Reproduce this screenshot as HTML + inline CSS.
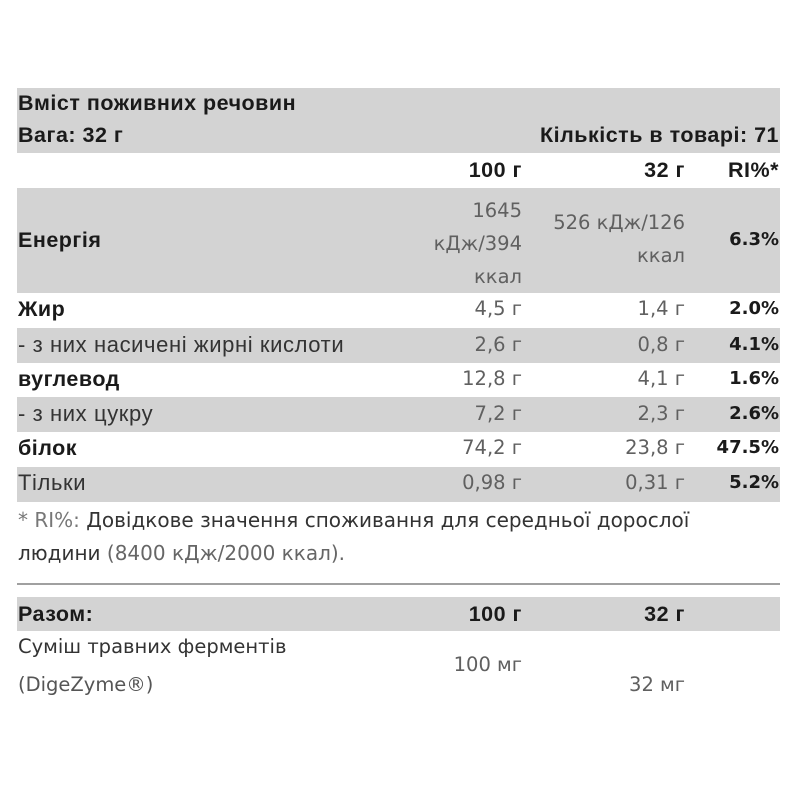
<!DOCTYPE html>
<html><head><meta charset="utf-8"><style>
body{margin:0;width:800px;height:800px;background:#fff;position:relative;overflow:hidden;font-family:"Liberation Sans",sans-serif;}
.g{position:absolute;left:17px;width:763px;background:#d3d3d3;}
.t{position:absolute;white-space:nowrap;line-height:20px;}
.b{font-weight:bold;color:#1a1a1a;font-size:21.5px;letter-spacing:0.5px;font-family:"Liberation Sans",sans-serif;}
.v{color:#606060;font-size:19.5px;font-family:"DejaVu Sans",sans-serif;}
.p{font-weight:bold;color:#1a1a1a;font-size:18px;font-family:"DejaVu Sans",sans-serif;}
.r1{right:278px;text-align:right}
.r2{right:115px;text-align:right}
.r3{right:21px;text-align:right}
.l{left:18px}
.n{font-weight:normal;color:#333;font-size:22px;letter-spacing:0.6px}
.f{font-size:20px}
</style></head><body>
<div class="g" style="top:88px;height:65px"></div>
<div class="g" style="top:188px;height:105px"></div>
<div class="g" style="top:328px;height:35px"></div>
<div class="g" style="top:397px;height:35px"></div>
<div class="g" style="top:467px;height:35px"></div>
<div style="position:absolute;left:17px;width:763px;top:583px;height:2px;background:#a0a0a0"></div>
<div class="g" style="top:597px;height:34px"></div>

<div class="t b l" style="top:93px">Вміст поживних речовин</div>
<div class="t b l" style="top:125px">Вага: 32 г</div>
<div class="t b r3" style="top:125px">Кількість в товарі: 71</div>

<div class="t b r1" style="top:160px">100 г</div>
<div class="t b r2" style="top:160px">32 г</div>
<div class="t b r3" style="top:160px">RI%*</div>

<div class="t b l" style="top:230px">Енергія</div>
<div class="t v r1" style="top:194px;line-height:33px">1645<br>кДж/394<br>ккал</div>
<div class="t v r2" style="top:206px;line-height:33px">526 кДж/126<br>ккал</div>
<div class="t p r3" style="top:230px">6.3%</div>

<div class="t b l" style="top:299px">Жир</div>
<div class="t v r1" style="top:299px">4,5 г</div>
<div class="t v r2" style="top:299px">1,4 г</div>
<div class="t p r3" style="top:299px">2.0%</div>

<div class="t b l n" style="top:335px">- з них насичені жирні кислоти</div>
<div class="t v r1" style="top:335px">2,6 г</div>
<div class="t v r2" style="top:335px">0,8 г</div>
<div class="t p r3" style="top:335px">4.1%</div>

<div class="t b l" style="top:369px">вуглевод</div>
<div class="t v r1" style="top:369px">12,8 г</div>
<div class="t v r2" style="top:369px">4,1 г</div>
<div class="t p r3" style="top:369px">1.6%</div>

<div class="t b l n" style="top:404px">- з них цукру</div>
<div class="t v r1" style="top:404px">7,2 г</div>
<div class="t v r2" style="top:404px">2,3 г</div>
<div class="t p r3" style="top:404px">2.6%</div>

<div class="t b l" style="top:438px">білок</div>
<div class="t v r1" style="top:438px">74,2 г</div>
<div class="t v r2" style="top:438px">23,8 г</div>
<div class="t p r3" style="top:438px">47.5%</div>

<div class="t b l n" style="top:473px">Тільки</div>
<div class="t v r1" style="top:473px">0,98 г</div>
<div class="t v r2" style="top:473px">0,31 г</div>
<div class="t p r3" style="top:473px">5.2%</div>

<div class="t v f l" style="top:510px;color:#333"><span style="color:#777">* RI%:</span> Довідкове значення споживання для середньої дорослої</div>
<div class="t v f l" style="top:543px;color:#333">людини <span style="color:#666">(8400 кДж/2000 ккал).</span></div>

<div class="t b l" style="top:604px">Разом:</div>
<div class="t b r1" style="top:604px">100 г</div>
<div class="t b r2" style="top:604px">32 г</div>

<div class="t v l" style="top:637px;color:#333">Суміш травних ферментів</div>
<div class="t v l" style="top:675px;color:#555">(DigeZyme®)</div>
<div class="t v r1" style="top:655px">100 мг</div>
<div class="t v r2" style="top:675px">32 мг</div>
</body></html>
